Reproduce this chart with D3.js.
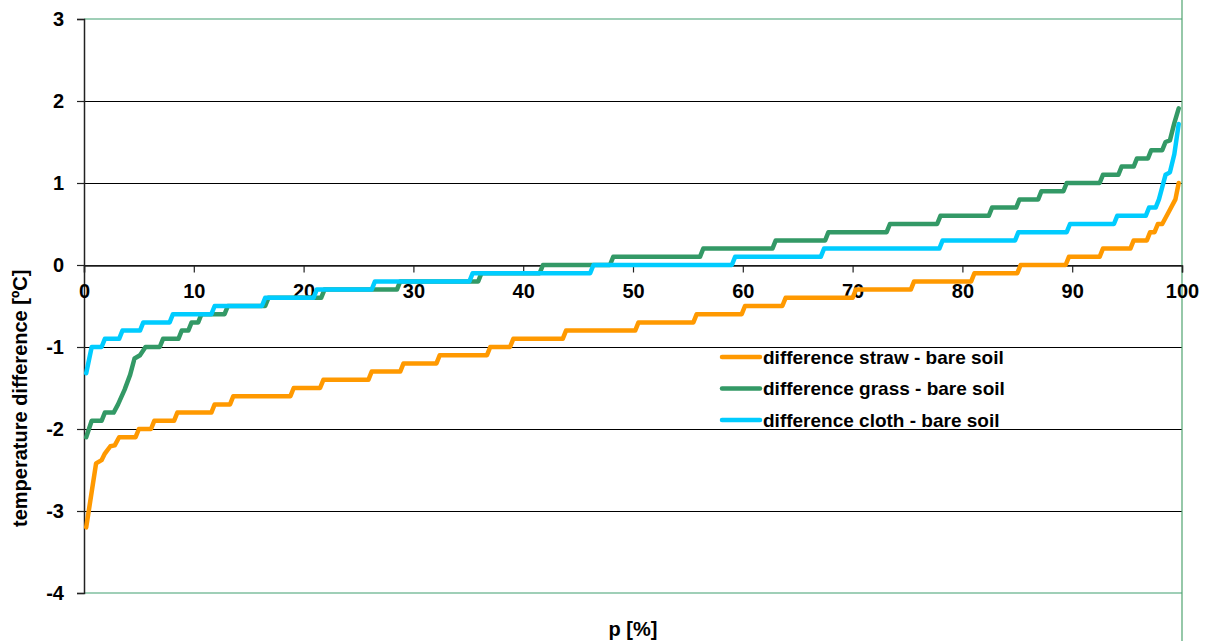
<!DOCTYPE html>
<html>
<head>
<meta charset="utf-8">
<script src="https://cdn.jsdelivr.net/npm/d3@7"></script>
<style>
  body { margin: 0; background: #fff; }
  text { font-family: "Liberation Sans", Arial, sans-serif; font-weight: bold; }
</style>
</head>
<body>
<div id="chart"></div>
<script>
// p [%] and temperature difference [ºC]
var strawData = [[0.2,-3.2],[1.1,-2.42],[1.6,-2.38],[1.9,-2.3],[2.4,-2.21],[2.8,-2.2],[3.2,-2.1],[4.7,-2.1],[5.0,-2.0],[6.1,-2.0],[6.4,-1.9],[8.2,-1.9],[8.5,-1.8],[11.6,-1.8],[11.9,-1.7],[13.3,-1.7],[13.6,-1.6],[18.8,-1.6],[19.1,-1.5],[21.5,-1.5],[21.8,-1.4],[25.9,-1.4],[26.2,-1.3],[28.8,-1.3],[29.1,-1.2],[32.1,-1.2],[32.4,-1.1],[36.7,-1.1],[37.0,-1.0],[38.8,-1.0],[39.1,-0.9],[43.6,-0.9],[43.9,-0.8],[50.2,-0.8],[50.5,-0.7],[55.5,-0.7],[55.8,-0.6],[59.9,-0.6],[60.2,-0.5],[63.6,-0.5],[63.9,-0.4],[70.0,-0.4],[70.3,-0.3],[75.3,-0.3],[75.6,-0.2],[80.8,-0.2],[81.1,-0.1],[85.0,-0.1],[85.3,0],[89.4,0],[89.7,0.1],[92.5,0.1],[92.8,0.2],[95.3,0.2],[95.6,0.3],[96.8,0.3],[97.1,0.4],[97.5,0.4],[97.8,0.5],[98.2,0.5],[98.8,0.65],[99.4,0.8],[99.7,1.0]];

var grassData = [[0.2,-2.1],[0.7,-1.9],[1.6,-1.9],[1.9,-1.8],[2.7,-1.8],[3.1,-1.7],[3.7,-1.52],[4.2,-1.34],[4.6,-1.14],[5.1,-1.1],[5.6,-1.0],[6.9,-1.0],[7.2,-0.9],[8.6,-0.9],[8.9,-0.8],[9.5,-0.8],[9.8,-0.7],[10.4,-0.7],[10.7,-0.6],[12.8,-0.6],[13.1,-0.5],[16.5,-0.5],[16.8,-0.4],[21.6,-0.4],[21.9,-0.3],[28.5,-0.3],[28.8,-0.2],[35.9,-0.2],[36.2,-0.1],[41.5,-0.1],[41.8,0],[47.9,0],[48.2,0.1],[56.1,0.1],[56.4,0.2],[62.7,0.2],[63.0,0.3],[67.5,0.3],[67.8,0.4],[73.1,0.4],[73.4,0.5],[77.7,0.5],[78.0,0.6],[82.4,0.6],[82.7,0.7],[84.9,0.7],[85.2,0.8],[86.9,0.8],[87.2,0.9],[89.2,0.9],[89.5,1.0],[92.5,1.0],[92.8,1.1],[94.2,1.1],[94.5,1.2],[95.6,1.2],[95.9,1.3],[96.9,1.3],[97.2,1.4],[98.2,1.4],[98.5,1.5],[98.9,1.52],[99.3,1.73],[99.7,1.91]];

var clothData = [[0.2,-1.32],[0.7,-1.0],[1.6,-1.0],[1.9,-0.9],[3.2,-0.9],[3.5,-0.8],[5.1,-0.8],[5.4,-0.7],[7.8,-0.7],[8.1,-0.6],[11.6,-0.6],[11.9,-0.5],[16.2,-0.5],[16.5,-0.4],[20.9,-0.4],[21.2,-0.3],[26.2,-0.3],[26.5,-0.2],[35.1,-0.2],[35.4,-0.1],[46.1,-0.1],[46.4,0],[59.0,0],[59.3,0.1],[67.1,0.1],[67.4,0.2],[77.9,0.2],[78.2,0.3],[84.8,0.3],[85.1,0.4],[89.5,0.4],[89.8,0.5],[93.8,0.5],[94.1,0.6],[96.7,0.6],[97.0,0.7],[97.6,0.7],[97.9,0.8],[98.2,0.95],[98.5,1.1],[98.9,1.13],[99.3,1.35],[99.7,1.72]];

var seriesNames = ["difference straw - bare soil", "difference grass - bare soil", "difference cloth - bare soil"];
var seriesColors = ["#ff9900", "#339966", "#00ccff"];
var xTicks = [0, 10, 20, 30, 40, 50, 60, 70, 80, 90, 100];
var yTicks = [-4, -3, -2, -1, 0, 1, 2, 3];

var width = 1207, height = 641;

var svg = d3.select("#chart")
  .append("svg")
  .attr("width", width)
  .attr("height", height);

var x = d3.scaleLinear()
  .domain([0, 100])
  .range([84, 1182]);

var y = d3.scaleLinear()
  .domain([-4, 3])
  .range([593, 19]);

// horizontal gridlines
svg.selectAll("line.grid")
  .data(yTicks.filter(function(d){ return d > -4 && d < 3; }))
  .enter()
  .append("line")
    .attr("class", "grid")
    .attr("x1", x(0))
    .attr("x2", x(100))
    .attr("y1", function(d){ return Math.round(y(d)) + 0.5; })
    .attr("y2", function(d){ return Math.round(y(d)) + 0.5; })
    .attr("stroke", "#000")
    .style("stroke-width", 1.2);

// top and bottom frame lines (green)
svg.selectAll("line.frame")
  .data([3, -4])
  .enter()
  .append("line")
    .attr("class", "frame")
    .attr("x1", x(0))
    .attr("x2", x(100))
    .attr("y1", function(d){ return y(d); })
    .attr("y2", function(d){ return y(d); })
    .attr("stroke", "#7fbf9f")
    .style("stroke-width", 1.5);

// right edge line
svg.append("line")
  .attr("x1", x(100))
  .attr("x2", x(100))
  .attr("y1", 0)
  .attr("y2", height)
  .attr("stroke", "#4fa36f")
  .style("stroke-width", 1.2);

// plain hyphen minus like the original
var fmt = function(d){ return String(d); };

// Y axis
var yAxis = svg.append("g")
  .attr("transform", "translate(" + x(0) + ",0)")
  .call(d3.axisLeft(y).tickValues(yTicks).tickSize(7).tickPadding(13).tickFormat(fmt));

// X axis along zero
var xAxis = svg.append("g")
  .attr("transform", "translate(0," + (Math.round(y(0)) + 0.5) + ")")
  .call(d3.axisBottom(x).tickValues(xTicks).tickSize(7).tickPadding(11).tickFormat(fmt));

[yAxis, xAxis].forEach(function(g){
  g.select(".domain").attr("stroke", "#222").style("stroke-width", 1.5);
  g.selectAll(".tick line").attr("stroke", "#222").style("stroke-width", 1.2);
  g.selectAll(".tick text")
    .attr("fill", "#000")
    .style("font-size", "20px")
    .style("font-family", "'Liberation Sans', Arial, sans-serif")
    .style("font-weight", "bold");
});

// axis titles
svg.append("text")
  .attr("transform", "rotate(-90)")
  .attr("x", -527)
  .attr("y", 27)
  .style("text-anchor", "start")
  .style("font-size", "20px")
  .text("temperature difference [ºC]");

svg.append("text")
  .attr("x", (x(0) + x(100)) / 2)
  .attr("y", 636)
  .style("text-anchor", "middle")
  .style("font-size", "20px")
  .text("p [%]");

// series lines
var line = d3.line()
  .x(function(d){ return x(d[0]); })
  .y(function(d){ return y(d[1]); });

[strawData, grassData, clothData].forEach(function(data, i){
  svg.append("path")
    .datum(data)
    .attr("d", line)
    .attr("stroke", seriesColors[i])
    .attr("fill", "none")
    .attr("stroke-linejoin", "round")
    .attr("stroke-linecap", "round")
    .style("stroke-width", 4.5);
});

// legend
var legend = svg.append("g").attr("transform", "translate(722,357)");

legend.selectAll("line")
  .data(seriesNames)
  .enter()
  .append("line")
    .attr("x1", 0)
    .attr("x2", 38)
    .attr("y1", function(d, i){ return i * 31.5; })
    .attr("y2", function(d, i){ return i * 31.5; })
    .attr("stroke", function(d, i){ return seriesColors[i]; })
    .attr("stroke-linecap", "round")
    .style("stroke-width", 4.5);

legend.selectAll("text")
  .data(seriesNames)
  .enter()
  .append("text")
    .attr("x", 41)
    .attr("y", function(d, i){ return i * 31.5; })
    .attr("dy", "0.35em")
    .style("font-size", "19px")
    .text(function(d){ return d; });
</script>
</body>
</html>
